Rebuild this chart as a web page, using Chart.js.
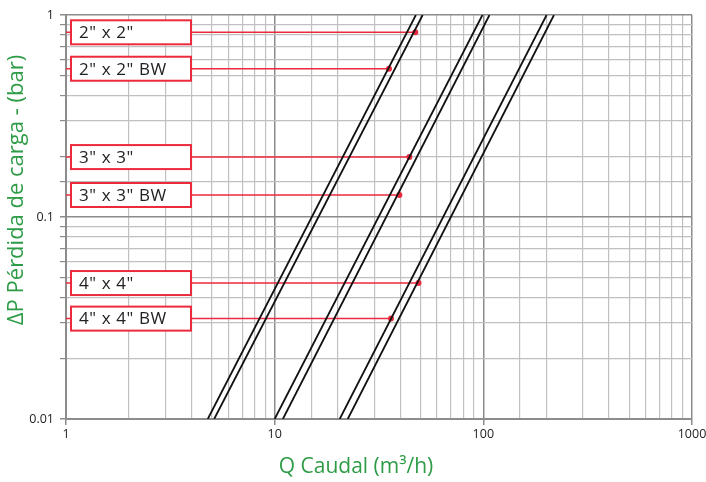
<!DOCTYPE html>
<html>
<head>
<meta charset="utf-8">
<script src="https://cdn.jsdelivr.net/npm/chart.js@4.4.1/dist/chart.umd.min.js"></script>
<style>
  html, body { margin: 0; padding: 0; background: #fff; }
  #wrap { width: 706px; height: 482px; }
</style>
</head>
<body>
<div id="wrap"><canvas id="chartPerdida" width="706" height="482"></canvas></div>
<script>
// Q (m3/h) donde cada curva cruza 0.01 bar y 1 bar
const pressureEnds = [0.01, 1];
const flowAtLow = [4.78, 5.13, 10.0, 10.95, 20.5, 22.4];
const flowAtHigh = [47.5, 51.2, 99, 107, 201, 218];

// etiquetas y puntos rojos
const labelNames = ['2" x 2"', '2" x 2" BW', '3" x 3"', '3" x 3" BW', '4" x 4"', '4" x 4" BW'];
const markerQ = [47.2, 35.3, 44.2, 39.6, 48.9, 36.1];
const markerDP = [0.821, 0.542, 0.198, 0.1285, 0.0471, 0.0314];

const xTicks = [1, 10, 100, 1000];
const yTicks = [0.01, 0.1, 1];

const rojo = '#ec2a3e';
const verde = '#2e9c47';

const isPow10 = v => Math.abs(Math.log10(v) - Math.round(Math.log10(v))) < 1e-6;

const datasets = [];
flowAtLow.forEach((q, i) => {
    datasets.push({
        data: [{ x: q, y: pressureEnds[0] }, { x: flowAtHigh[i], y: pressureEnds[1] }],
        borderColor: '#111',
        borderWidth: 1.8,
        pointRadius: 0,
        tension: 0
    });
});
labelNames.forEach((n, i) => {
    datasets.push({
        data: [{ x: 1, y: markerDP[i] }, { x: markerQ[i], y: markerDP[i] }],
        borderColor: rojo,
        borderWidth: 1.5,
        pointRadius: [0, 3],
        pointBackgroundColor: rojo,
        pointBorderWidth: 0
    });
});

const cajas = {
    id: 'cajas',
    afterDatasetsDraw(chart) {
        const { ctx, chartArea, scales } = chart;
        ctx.save();
        labelNames.forEach((n, i) => {
            const y = scales.y.getPixelForValue(markerDP[i]);
            const x = chartArea.left + 5;
            ctx.fillStyle = '#fff';
            ctx.fillRect(x, y - 12, 120, 24);
            ctx.strokeStyle = rojo;
            ctx.lineWidth = 2;
            ctx.strokeRect(x, y - 12, 120, 24);
            ctx.fillStyle = '#222';
            ctx.font = '17px "Open Sans"';
            ctx.letterSpacing = '0.6px';
            ctx.textBaseline = 'middle';
            ctx.fillText(n, x + 8, y + 1);
        });
        ctx.restore();
    }
};

const titulos = {
    id: 'titulos',
    afterDraw(chart) {
        const { ctx } = chart;
        ctx.save();
        ctx.fillStyle = verde;
        ctx.font = '21px "Open Sans"';
        ctx.textAlign = 'center';
        ctx.textBaseline = 'middle';
        ctx.fillText('Q Caudal (m³/h)', 356, 467);
        ctx.translate(17, 190);
        ctx.rotate(-Math.PI / 2);
        ctx.font = '22px "Open Sans"';
        ctx.fillText('ΔP Pérdida de carga - (bar)', 0, 0);
        ctx.restore();
    }
};

const ctx = document.getElementById('chartPerdida').getContext('2d');
const chartPerdida = new Chart(ctx, {
    type: 'line',
    data: { datasets: datasets },
    options: {
        responsive: false,
        animation: false,
        layout: { padding: { top: 15, right: 14, left: 0, bottom: 0 } },
        plugins: { legend: { display: false }, tooltip: { enabled: false } },
        scales: {
            x: {
                type: 'logarithmic',
                min: 1,
                max: 1000,
                afterFit: s => { s.height = 63; s.paddingLeft = 0; s.paddingRight = 0; },
                border: { color: '#8c8c8c', width: 2 },
                grid: {
                    color: c => isPow10(c.tick.value) ? '#8c8c8c' : '#c0c0c0',
                    lineWidth: c => isPow10(c.tick.value) ? 1.5 : 1.2,
                    tickColor: c => isPow10(c.tick.value) ? '#8c8c8c' : 'rgba(0,0,0,0)',
                    tickLength: 6
                },
                ticks: {
                    autoSkip: false,
                    maxRotation: 0,
                    padding: 2,
                    color: '#222',
                    font: { family: 'Open Sans', size: 12.5 },
                    callback: v => xTicks.find(t => Math.abs(t - v) < 1e-6 * t) !== undefined ? String(v) : ''
                }
            },
            y: {
                type: 'logarithmic',
                min: 0.01,
                max: 1,
                afterFit: s => { s.width = 66; s.paddingTop = 0; s.paddingBottom = 0; },
                border: { color: '#8c8c8c', width: 2 },
                grid: {
                    color: c => isPow10(c.tick.value) ? '#8c8c8c' : '#c0c0c0',
                    lineWidth: c => isPow10(c.tick.value) ? 1.5 : 1.2,
                    tickColor: '#8c8c8c',
                    tickLength: 6
                },
                ticks: {
                    autoSkip: false,
                    padding: 6,
                    color: '#222',
                    font: { family: 'Open Sans', size: 12.5 },
                    callback: v => {
                        const t = yTicks.find(t => Math.abs(t - v) < 1e-6 * t);
                        return t !== undefined ? String(t) : '';
                    }
                }
            }
        }
    },
    plugins: [cajas, titulos]
});
</script>
</body>
</html>
